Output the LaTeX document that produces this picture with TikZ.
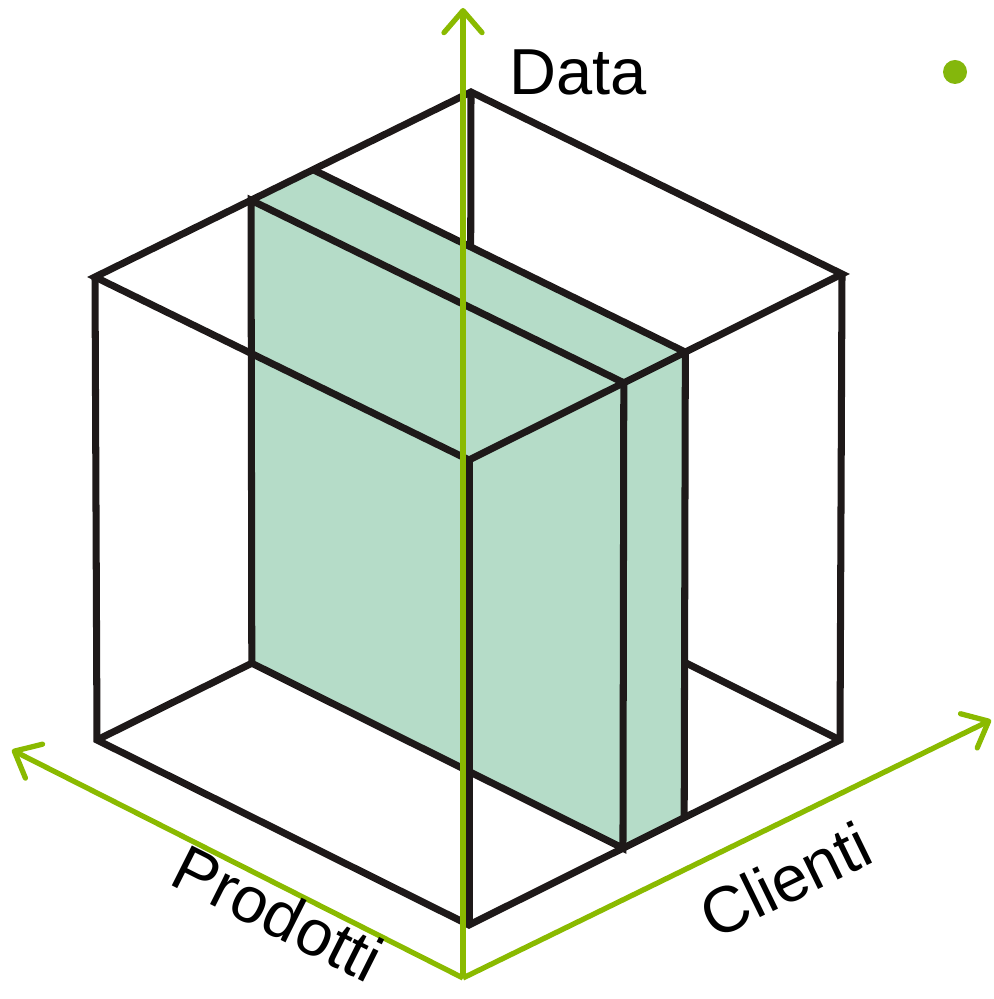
\documentclass[tikz,border=0pt]{standalone}
\usepackage{fontspec}
\setmainfont{Liberation Sans}
\usetikzlibrary{calc, arrows.meta}
\definecolor{axisgreen}{RGB}{138,186,0}
\definecolor{bulletgreen}{RGB}{132,183,12}
\definecolor{slabgreen}{RGB}{181,220,200}
\definecolor{cubeblack}{RGB}{30,25,25}

\begin{document}
\begin{tikzpicture}[
						cubeline/.style={draw=cubeblack, line width=2pt},
						axisline/.style={draw=axisgreen, line width=1.5pt,
							-{Straight Barb[length=2.2mm, width=3.8mm, round]}},
						dimlabel/.style={font=\fontsize{18.5}{22}\selectfont, inner sep=0pt}]
						\useasboundingbox (0,0) rectangle (9.93,9.99);
						% corners of the cube
						\coordinate (FB) at (4.69,0.74);
						\coordinate (LB) at (0.97,2.59);
						\coordinate (RB) at (8.40,2.59);
						\coordinate (BB) at (4.70,4.44);
						\coordinate (FT) at (4.69,5.39);
						\coordinate (LT) at (0.95,7.22);
						\coordinate (RT) at (8.42,7.25);
						\coordinate (BT) at (4.71,9.07);
						% corners of the slice
						\coordinate (S1) at ($(FT)!0.415!(RT)$);
						\coordinate (S2) at ($(FT)!0.58!(RT)$);
						\coordinate (S3) at ($(LT)!0.415!(BT)$);
						\coordinate (S4) at ($(LT)!0.58!(BT)$);
						\coordinate (S1b) at ($(FB)!0.415!(RB)$);
						\coordinate (S2b) at ($(FB)!0.58!(RB)$);
						\coordinate (S3b) at ($(LB)!0.415!(BB)$);
						\coordinate (R1) at (intersection of RB--BB and S2--S2b);
						\coordinate (B1) at (intersection of BT--BB and S4--S2);
						% the slice
						\fill[slabgreen] (S3) -- (S4) -- (S2) -- (S2b) -- (S1b) -- (S3b) -- cycle;
						% the cube
						\draw[cubeline] (LT) -- (BT) -- (RT) -- (FT) -- cycle;
						\draw[cubeline] (LT) -- (LB) -- (FB) -- (RB) -- (RT);
						\draw[cubeline] (FT) -- (FB);
						\draw[cubeline] (LB) -- (S3b);
						\draw[cubeline] (RB) -- (R1);
						\draw[cubeline] (BT) -- (B1);
						\draw[cubeline] (S3) -- (S1) -- (S1b) -- (S3b) -- cycle;
						\draw[cubeline] (S4) -- (S2) -- (S2b);
						% axes
						\coordinate (O) at (4.63,0.21);
						\coordinate (Dtip) at (4.63,9.91);
						\coordinate (Ptip) at (0.12,2.49);
						\coordinate (Ctip) at (9.91,2.79);
						\draw[axisline] (O) -- (Dtip);
						\draw[axisline] (O) -- (Ptip);
						\draw[axisline] (O) -- (Ctip);
						\node[dimlabel] (datalbl) at (5.78,9.27) {Data};
						\node[dimlabel, rotate=-26.7] (prodlbl) at (2.78,0.86) {Prodotti};
						\node[dimlabel, rotate=26] (clilbl) at (7.85,1.19) {Clienti};
						\node[circle, fill=bulletgreen, minimum size=0.24cm, inner sep=0pt] (bullet) at (9.55,9.27) {};
					\end{tikzpicture}
\end{document}
